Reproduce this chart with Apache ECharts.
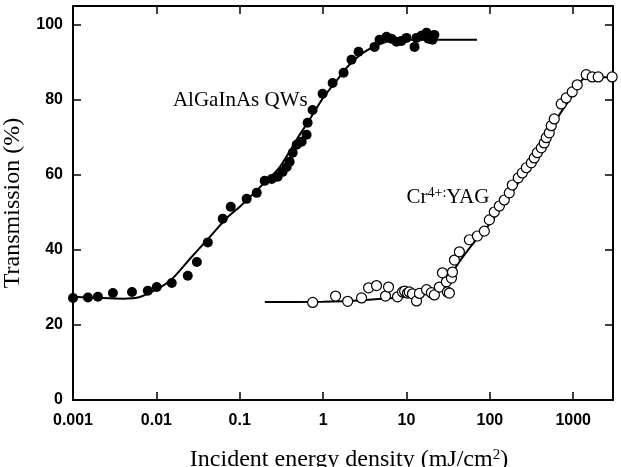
<!DOCTYPE html>
<html>
<head>
<meta charset="utf-8">
<script src="https://cdn.jsdelivr.net/npm/echarts@6/dist/echarts.min.js"></script>
<style>html,body{margin:0;padding:0;background:#fff}#c{width:621px;height:467px}</style>
</head>
<body>
<div id="c"></div>
<script>
// Tick labels
const xTickLabels = ['0.001','0.01','0.1','1','10','100','1000'];
const yTickLabels = ['0','20','40','60','80','100'];

// AlGaInAs QWs measured points
const qwX = [0.001,0.00151,0.00199,0.00301,0.0051,0.0079,0.0101,0.0153,0.0238,0.0306,0.0414,0.0625,0.078,0.121,0.160,0.199,0.242,0.285,0.327,0.366,0.397,0.432,0.482,0.553,0.634,0.652,0.748,0.986,1.30,1.76,2.19,2.66,4.14,4.75,5.76,6.6,7.59,8.7,10,12.5,13.2,15.1,17.4,18.3,20.5,21.6];
const qwY = [27.2,27.3,27.5,28.5,28.8,29.1,30.1,31.2,33.1,36.8,42.0,48.3,51.5,53.6,55.2,58.4,58.9,59.5,60.8,62.1,63.5,65.9,68.0,68.8,70.7,73.9,77.3,81.6,84.5,87.2,90.7,92.8,94.1,96.0,96.8,96.3,95.5,95.7,96.5,94.1,96.5,97.1,97.9,96.3,96.0,97.3];

// AlGaInAs QWs fit curve
const qwFitX = [0.001,0.002,0.004,0.006,0.01,0.015,0.025,0.04,0.07,0.1,0.2,0.3,0.5,0.7,1,1.5,2,3,5,8,20,70];
const qwFitY = [27.5,27.2,27.0,27.3,29.5,32.0,37.5,42.5,48.5,51.5,58.0,62.0,70.0,75.0,80.5,85.5,89.0,92.5,95.0,96.0,96.0,96.0];

// Cr4+:YAG measured points
const crX = [0.75,1.41,1.97,2.89,3.51,4.37,5.6,6.09,7.8,8.96,9.5,10.3,10.8,11.8,13.2,14.3,17.4,19.9,21.6,24.8,27.0,30.1,31.0,32.7,34.6,35.6,37.6,43.1,56.8,70.8,85.9,98.6,113,130,149,171,186,219,245,274,314,341,371,414,449,475,516,545,592,718,824,973,1117,1432,1690,1993,2931];
const crY = [26.0,27.7,26.3,27.2,29.9,30.5,27.7,30.1,27.5,28.8,29.0,28.5,28.8,28.3,26.4,28.4,29.4,28.6,28.0,30.1,33.9,31.5,28.8,28.5,32.5,34.1,37.3,39.5,42.7,43.7,45.0,48.0,50.1,51.7,53.3,55.2,57.3,59.2,60.5,61.9,63.2,64.5,65.9,67.2,68.5,69.9,71.2,73.1,74.9,78.9,80.5,82.1,84.0,86.7,86.1,86.1,86.1];

// Cr4+:YAG fit curve
const crFitX = [0.2,1,3,10,20,30,38,57,100,245,640,1000,1400,3000];
const crFitY = [26.1,26.2,26.6,27.5,28.5,30.0,35.0,40.5,47.0,59.5,75.0,81.5,86.0,86.0];

const zip = (a, b) => a.map((v, i) => [v, b[i]]);

const chart = echarts.init(document.getElementById('c'), null, {renderer: 'canvas'});
const axisLine = {show: true, onZero: false, lineStyle: {color: '#000', width: 2}};
const tickStyle = {show: true, inside: true, length: 8, lineStyle: {color: '#000', width: 1.5}};
const labelFont = {color: '#000', fontSize: 16, fontWeight: 'bold', fontFamily: 'Liberation Sans, Arial, sans-serif'};
const serif = 'Liberation Serif, Times New Roman, serif';

function xFmt(v) {
  const l = Math.log10(v);
  const r = Math.round(l);
  if (Math.abs(l - r) > 1e-6) return '';
  const i = r + 3;
  return xTickLabels[i] !== undefined ? xTickLabels[i] : '';
}
function yFmt(v) {
  const i = Math.round(v / 20);
  if (Math.abs(v - i * 20) > 1e-6) return '';
  return yTickLabels[i] !== undefined ? yTickLabels[i] : '';
}

chart.setOption({
  animation: false,
  backgroundColor: '#fff',
  grid: {left: 73, right: 8, top: 6, bottom: 67, containLabel: false, outerBoundsMode: 'none'},
  xAxis: [{
    type: 'log', logBase: 10, min: 0.001, max: 3000, position: 'bottom',
    axisLine, axisTick: tickStyle, splitLine: {show: false}, minorTick: {show: false},
    axisLabel: Object.assign({margin: 13, formatter: xFmt, showMaxLabel: false}, labelFont),
    name: '{a|Incident energy density (mJ/cm}{s|2}{a|)}',
    nameLocation: 'middle', nameGap: 48,
    nameTextStyle: {padding: [0, 0, 0, 12], rich: {
      a: {fontSize: 24, fontFamily: serif, color: '#000'},
      s: {fontSize: 15, fontFamily: serif, color: '#000', verticalAlign: 'top'}
    }}
  }, {
    type: 'log', logBase: 10, min: 0.001, max: 3000, position: 'top',
    axisLine, axisTick: tickStyle, splitLine: {show: false}, axisLabel: {show: false}
  }],
  yAxis: [{
    type: 'value', min: 0, max: 105, interval: 20, position: 'left',
    axisLine, axisTick: tickStyle, splitLine: {show: false},
    axisLabel: Object.assign({margin: 10, formatter: yFmt}, labelFont),
    name: 'Transmission (%)', nameLocation: 'middle', nameGap: 48, nameRotate: 90,
    nameTextStyle: {fontSize: 24, fontFamily: serif, color: '#000'}
  }, {
    type: 'value', min: 0, max: 105, interval: 20, position: 'right',
    axisLine, axisTick: tickStyle, splitLine: {show: false}, axisLabel: {show: false}
  }],
  series: [
    {type: 'line', data: zip(qwFitX, qwFitY), smooth: 0.3, symbol: 'none',
     lineStyle: {color: '#000', width: 2}, z: 2},
    {type: 'line', data: zip(crFitX, crFitY), smooth: 0.2, symbol: 'none',
     lineStyle: {color: '#000', width: 2}, z: 2},
    {type: 'scatter', data: zip(qwX, qwY), symbol: 'circle', symbolSize: 10,
     itemStyle: {color: '#000', opacity: 1}, z: 3},
    {type: 'scatter', data: zip(crX, crY), symbol: 'circle', symbolSize: 10,
     itemStyle: {color: '#fff', borderColor: '#000', borderWidth: 1.2, opacity: 1}, z: 4}
  ]
});

const p1 = chart.convertToPixel({gridIndex: 0}, [0.0158, 79.7]);
const p2 = chart.convertToPixel({gridIndex: 0}, [10, 54.1]);
chart.setOption({
  graphic: [
    {type: 'text', x: p1[0], y: p1[1], z: 10,
     style: {text: 'AlGaInAs QWs', fontSize: 21, fontFamily: serif, fill: '#000', verticalAlign: 'middle', align: 'left'}},
    {type: 'text', x: p2[0], y: p2[1], z: 10,
     style: {text: '{a|Cr}{s|4+:}{a|YAG}', verticalAlign: 'middle', align: 'left',
       rich: {
         a: {fontSize: 21, fontFamily: serif, fill: '#000'},
         s: {fontSize: 14, fontFamily: serif, fill: '#000', verticalAlign: 'top'}
       }}}
  ]
});
</script>
</body>
</html>
